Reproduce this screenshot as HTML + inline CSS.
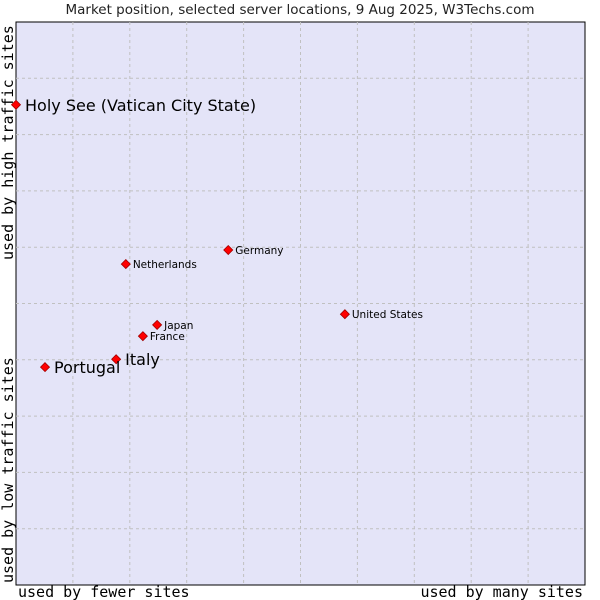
<!DOCTYPE html>
<html><head><meta charset="utf-8"><style>
body{margin:0;background:#fff}
svg{display:block}
</style></head><body>
<svg id="chart" width="600" height="600" xmlns="http://www.w3.org/2000/svg">
<text x="300" y="14" text-anchor="middle" font-family="DejaVu Sans, sans-serif" font-size="13.5" fill="#222">Market position, selected server locations, 9 Aug 2025, W3Techs.com</text>
<rect x="16" y="22" width="569" height="563" fill="#e4e4f8" stroke="#000" stroke-width="1"/>
<g id="grid"></g>
<g id="points"></g>
<text x="18" y="597" font-family="DejaVu Sans Mono, monospace" font-size="15" fill="#000">used by fewer sites</text>
<text x="583" y="597" text-anchor="end" font-family="DejaVu Sans Mono, monospace" font-size="15" fill="#000">used by many sites</text>
<text transform="translate(13,583) rotate(-90)" font-family="DejaVu Sans Mono, monospace" font-size="15" fill="#000">used by low traffic sites</text>
<text transform="translate(13,260) rotate(-90)" font-family="DejaVu Sans Mono, monospace" font-size="15" fill="#000">used by high traffic sites</text>
</svg>
<script>
const countries=["Holy See (Vatican City State)","Germany","Netherlands","United States","Japan","France","Italy","Portugal"];
const xValues=[0,37.3,19.3,57.8,24.8,22.3,17.6,5.1];
const yValues=[85.3,59.5,57.0,48.1,46.2,44.2,40.1,38.7];
const bigLabel=[true,false,false,false,false,false,true,true];
const X0=16,X1=585,Y0=585,Y1=22;
const sx=v=>X0+v/100*(X1-X0);
const sy=v=>Y0-v/100*(Y0-Y1);
const NS="http://www.w3.org/2000/svg";
const grid=document.getElementById('grid');
for(let i=1;i<10;i++){
  const v=document.createElementNS(NS,'line');
  
  
  v.setAttribute('x1',sx(i*10));v.setAttribute('x2',sx(i*10));v.setAttribute('y1',Y1);v.setAttribute('y2',Y0);
  v.setAttribute('stroke','#c0c0c0');v.setAttribute('stroke-dasharray','3,3');
  grid.appendChild(v);
  const h=document.createElementNS(NS,'line');
  
  
  h.setAttribute('y1',sy(i*10));h.setAttribute('y2',sy(i*10));h.setAttribute('x1',X0);h.setAttribute('x2',X1);
  h.setAttribute('stroke','#c0c0c0');h.setAttribute('stroke-dasharray','3,3');
  grid.appendChild(h);
}
const pts=document.getElementById('points');
countries.forEach((c,i)=>{
  const x=sx(xValues[i]),y=sy(yValues[i]);
  const m=document.createElementNS(NS,'path');
  
  
  m.setAttribute('d',`M${x},${y-4.5}L${x+4.5},${y}L${x},${y+4.5}L${x-4.5},${y}Z`);
  m.setAttribute('fill','#ff0000');m.setAttribute('stroke','#a00000');m.setAttribute('stroke-width','0.8');
  pts.appendChild(m);
  const t=document.createElementNS(NS,'text');
  
  
  const big=bigLabel[i];
  t.setAttribute('x',x+(big?9:7));t.setAttribute('y',y+(big?6:4));
  t.setAttribute('font-family','DejaVu Sans, sans-serif');
  t.setAttribute('font-size',big?'16':'10.5');
  t.setAttribute('fill','#000');
  t.textContent=c;
  pts.appendChild(t);
});
</script>
</body></html>
